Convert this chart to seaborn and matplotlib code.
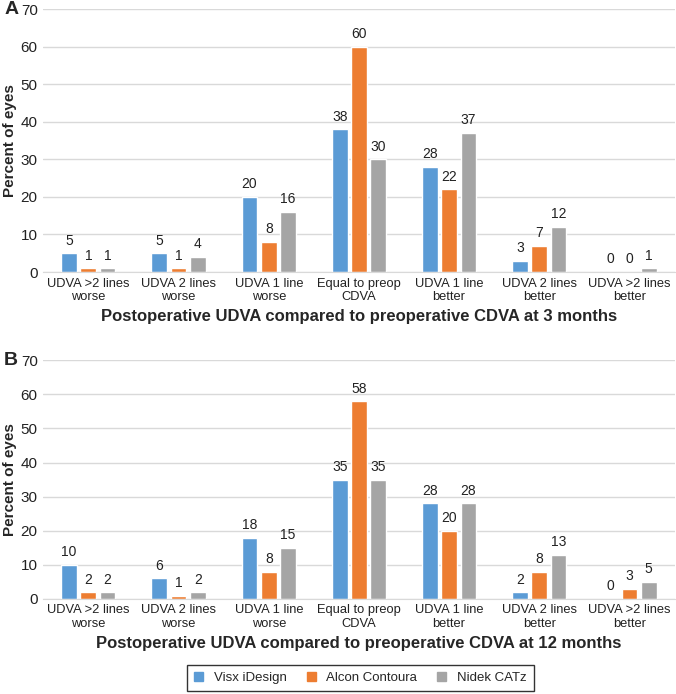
import matplotlib
matplotlib.use("Agg")
import matplotlib.pyplot as plt
import seaborn as sns
import pandas as pd

categories = [
    "UDVA >2 lines\nworse",
    "UDVA 2 lines\nworse",
    "UDVA 1 line\nworse",
    "Equal to preop\nCDVA",
    "UDVA 1 line\nbetter",
    "UDVA 2 lines\nbetter",
    "UDVA >2 lines\nbetter",
]
lasers = ["Visx iDesign", "Alcon Contoura", "Nidek CATz"]
colors = ["#5B9BD5", "#ED7D31", "#A5A5A5"]

visx_3m = [5, 5, 20, 38, 28, 3, 0]
alcon_3m = [1, 1, 8, 60, 22, 7, 0]
nidek_3m = [1, 4, 16, 30, 37, 12, 1]

visx_12m = [10, 6, 18, 35, 28, 2, 0]
alcon_12m = [2, 1, 8, 58, 20, 8, 3]
nidek_12m = [2, 2, 15, 35, 28, 13, 5]


def long_df(a, b, c):
    rows = []
    for name, vals in zip(lasers, [a, b, c]):
        for cat, v in zip(categories, vals):
            rows.append({"cat": cat, "laser": name, "pct": v})
    return pd.DataFrame(rows)


sns.set_style("white")
plt.rcParams["font.family"] = ["Liberation Sans", "DejaVu Sans"]

fig = plt.figure(figsize=(6.76, 6.94), dpi=100)
ax_a = fig.add_axes([0.064, 0.608, 0.934, 0.379])
ax_b = fig.add_axes([0.064, 0.137, 0.934, 0.344])

panels = [
    (ax_a, long_df(visx_3m, alcon_3m, nidek_3m), "3 months", "A"),
    (ax_b, long_df(visx_12m, alcon_12m, nidek_12m), "12 months", "B"),
]

for ax, df, when, letter in panels:
    sns.barplot(
        data=df, x="cat", y="pct", hue="laser", hue_order=lasers,
        palette=colors, width=0.64, gap=0.18, ax=ax, legend=False,
        saturation=1,
    )
    for cont in ax.containers:
        ax.bar_label(cont, fmt="%d", padding=4, fontsize=10, color="#222222")
    ax.set_ylim(0, 70)
    ax.set_yticks(range(0, 71, 10))
    ax.set_xlim(-0.5, len(categories) - 0.5)
    ax.grid(axis="y", color="#D9D9D9", linewidth=1)
    ax.set_axisbelow(True)
    for s in ["top", "right", "left"]:
        ax.spines[s].set_visible(False)
    ax.spines["bottom"].set_color("#D9D9D9")
    ax.tick_params(axis="y", length=0, labelsize=11, colors="#222222", pad=4)
    ax.tick_params(axis="x", length=0, labelsize=9.3, colors="#222222", pad=4)
    ax.set_ylabel("Percent of eyes", fontsize=11, fontweight="bold", labelpad=3)
    ax.set_xlabel(
        "Postoperative UDVA compared to preoperative CDVA at " + when,
        fontsize=12, fontweight="bold", labelpad=4,
    )
    ax.text(-0.062, 1.0, letter, transform=ax.transAxes, fontsize=14,
            fontweight="bold", va="center", ha="left")

handles = [plt.Rectangle((0, 0), 1, 1, color=c) for c in colors]
fig.legend(
    handles, lasers, loc="center", bbox_to_anchor=(0.533, 0.023), ncol=3,
    frameon=True, fancybox=False, edgecolor="black", fontsize=9.5,
    handlelength=0.7, handleheight=0.7, columnspacing=1.5, borderpad=0.55,
)

fig.savefig("out.png", dpi=100)
